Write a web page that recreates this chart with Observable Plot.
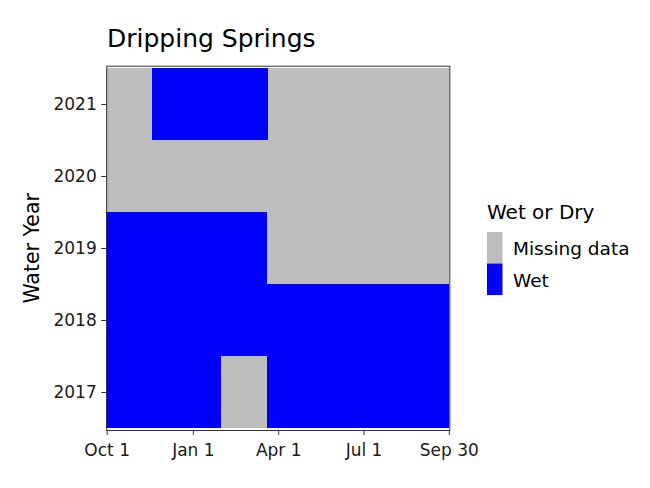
<!DOCTYPE html>
<html><head><meta charset="utf-8">
<script src="https://cdn.jsdelivr.net/npm/d3@7"></script>
<script src="https://cdn.jsdelivr.net/npm/@observablehq/plot@0.6"></script>
<style>
body{margin:0;background:#fff;}
#wrap{width:650px;height:488px;}
svg text{font-family:"DejaVu Sans",sans-serif;}
</style></head><body><div id="wrap"></div>
<script>
const years = [2021, 2020, 2019, 2018, 2017];
const runYear   = [2017, 2017, 2017, 2018, 2019, 2019, 2020, 2021, 2021, 2021];
const runStart  = [1, 123, 173, 1, 1, 173, 1, 1, 50, 174];
const runEnd    = [122, 172, 366, 366, 172, 366, 366, 49, 173, 366];
const runStatus = ["Wet", "Missing data", "Wet", "Wet", "Wet", "Missing data", "Missing data", "Missing data", "Wet", "Missing data"];
const categories = ["Missing data", "Wet"];
const colors = ["#BEBEBE", "#0000FF"];
const tickDays = [1, 93, 184, 275, 366];
const tickLabels = ["Oct 1", "Jan 1", "Apr 1", "Jul 1", "Sep 30"];

const days = [];
runYear.forEach((y, i) => {
  for (let d = runStart[i]; d <= runEnd[i]; d++) days.push({year: y, day: d, status: runStatus[i]});
});

const L = 106.2, R = 449.3, T = 65.7, B = 430;
const chart = Plot.plot({
  width: 650, height: 488,
  marginLeft: L, marginRight: 650 - R, marginTop: T, marginBottom: 488 - B,
  x: {domain: [0.5, 366.5]},
  y: {domain: years, padding: 0},
  color: {domain: categories, range: colors},
  style: {fontFamily: "DejaVu Sans", background: "#fff"},
  marks: [
    Plot.barX(days, {x1: d => d.day - 0.5, x2: d => d.day + 0.5, y: "year", fill: "status", shapeRendering: "crispEdges"}),
    Plot.frame({stroke: "#333", strokeWidth: 1}),
    Plot.axisX({ticks: tickDays, tickFormat: d => tickLabels[tickDays.indexOf(d)], tickSize: 5, tickPadding: 8,
      fontSize: 17, label: null, stroke: "#333", fill: "#1a1a1a"}),
    Plot.axisY({tickSize: 5, tickPadding: 5, fontSize: 17, label: null, stroke: "#333", fill: "#1a1a1a", tickFormat: d => String(d)}),
    Plot.text(["Water Year"], {frameAnchor: "left", textAnchor: "middle", dx: -74, rotate: -90, fontSize: 20.5, fill: "#000"})
  ]
});
document.getElementById("wrap").appendChild(chart);

const svg = d3.select(chart);
svg.append("text").attr("x", 107).attr("y", 47).attr("font-size", 25).attr("text-anchor", "start").attr("fill", "#000").text("Dripping Springs");
svg.append("text").attr("x", 487).attr("y", 219).attr("font-size", 20).attr("text-anchor", "start").attr("fill", "#000").text("Wet or Dry");
const col = chart.scale("color");
categories.forEach((c, i) => {
  svg.append("rect").attr("x", 487).attr("y", 232 + i * 31.5).attr("width", 15.5).attr("height", 31.5).attr("fill", col.apply(c));
  svg.append("text").attr("x", 513).attr("y", 254.5 + i * 32).attr("font-size", 18.5).attr("text-anchor", "start").attr("fill", "#000").text(c);
});
</script></body></html>
